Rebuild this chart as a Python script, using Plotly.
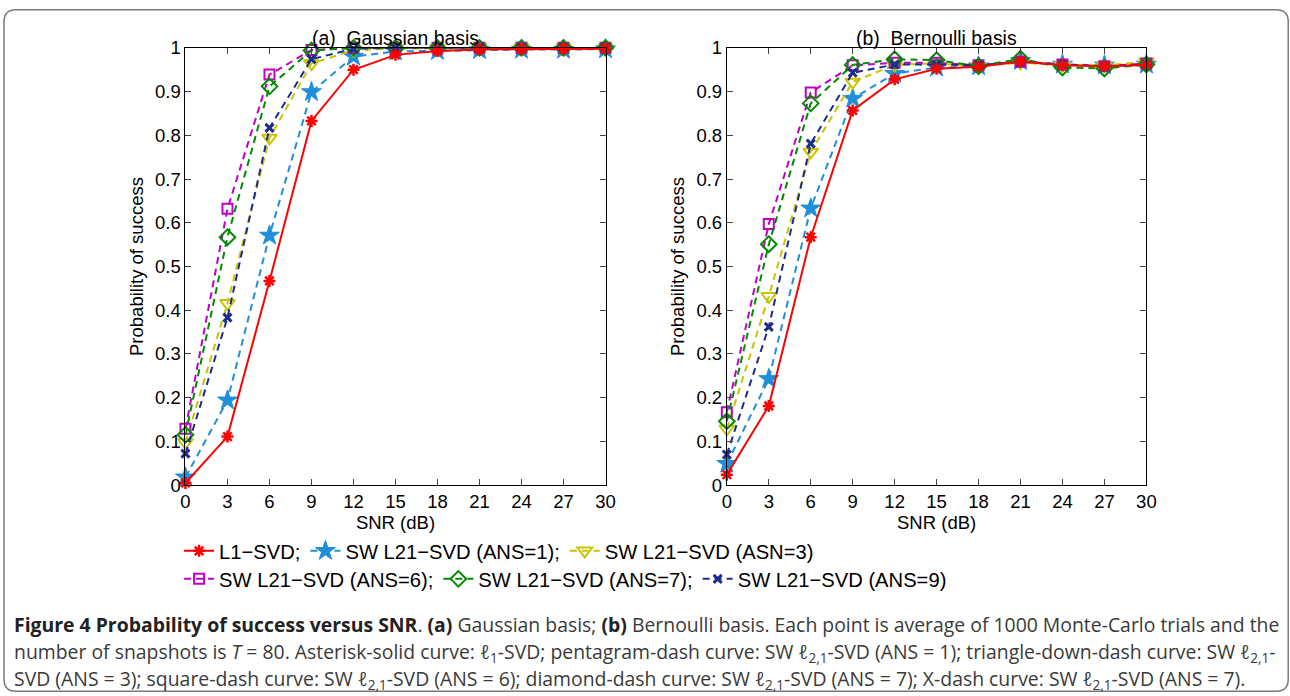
import plotly.graph_objects as go

# Figure size (the page body adds an 8px margin around the figure)
PAD = 8
W, H = 1302, 708
# measured mapping between page pixels and the captured picture
SX, OX = 0.986, -2.9
SY, OY = 0.9697, 1.4

snr = [0, 3, 6, 9, 12, 15, 18, 21, 24, 27, 30]
x_ticks = [0, 3, 6, 9, 12, 15, 18, 21, 24, 27, 30]
y_ticks = [0, 0.1, 0.2, 0.3, 0.4, 0.5, 0.6, 0.7, 0.8, 0.9, 1]
y_tick_text = ["0", "0.1", "0.2", "0.3", "0.4", "0.5", "0.6", "0.7", "0.8", "0.9", "1"]

# (a) Gaussian basis
g_l1 = [0.005, 0.111, 0.467, 0.833, 0.950, 0.984, 0.993, 0.996, 0.997, 0.998, 0.998]
g_ans1 = [0.018, 0.194, 0.571, 0.899, 0.980, 0.992, 0.993, 0.995, 0.996, 0.996, 0.997]
g_ans3 = [0.098, 0.416, 0.794, 0.964, 0.995, 0.998, 0.999, 1.0, 1.0, 1.0, 1.0]
g_ans6 = [0.129, 0.632, 0.939, 0.995, 1.0, 1.0, 1.0, 1.0, 1.0, 1.0, 1.0]
g_ans7 = [0.115, 0.567, 0.912, 0.994, 1.0, 1.0, 1.0, 1.0, 1.0, 1.0, 1.0]
g_ans9 = [0.072, 0.383, 0.817, 0.974, 0.998, 1.0, 1.0, 1.0, 1.0, 1.0, 1.0]

# (b) Bernoulli basis
b_l1 = [0.024, 0.181, 0.567, 0.857, 0.928, 0.952, 0.957, 0.969, 0.960, 0.958, 0.961]
b_ans1 = [0.049, 0.243, 0.633, 0.884, 0.941, 0.955, 0.958, 0.970, 0.962, 0.960, 0.962]
b_ans3 = [0.129, 0.432, 0.762, 0.922, 0.961, 0.965, 0.958, 0.966, 0.960, 0.960, 0.968]
b_ans6 = [0.167, 0.597, 0.898, 0.960, 0.966, 0.966, 0.960, 0.968, 0.962, 0.958, 0.964]
b_ans7 = [0.146, 0.551, 0.873, 0.961, 0.974, 0.972, 0.958, 0.975, 0.955, 0.953, 0.962]
b_ans9 = [0.070, 0.362, 0.781, 0.943, 0.962, 0.962, 0.960, 0.968, 0.962, 0.958, 0.962]

names = ["L1\u2212SVD;", "SW L21\u2212SVD (ANS=1);", "SW L21\u2212SVD (ASN=3)",
         "SW L21\u2212SVD (ANS=6);", "SW L21\u2212SVD (ANS=7);", "SW L21\u2212SVD (ANS=9)"]

styles = [
    dict(color="#ff0000", symbol="asterisk-open", size=10, dash="solid", mlw=2.5),
    dict(color="#1e8fd8", symbol="star", size=15, dash="7px,5px", mlw=1),
    dict(color="#c8c400", symbol="triangle-down-open", size=13, dash="7px,5px", mlw=2),
    dict(color="#c000c8", symbol="square-open", size=10, dash="7px,5px", mlw=2),
    dict(color="#008a00", symbol="diamond-open", size=12, dash="7px,5px", mlw=2),
    dict(color="#1c2c8c", symbol="x-thin-open", size=8, dash="7px,5px", mlw=3),
]

gauss = [g_l1, g_ans1, g_ans3, g_ans6, g_ans7, g_ans9]
bern = [b_l1, b_ans1, b_ans3, b_ans6, b_ans7, b_ans9]

fig = go.Figure()

FONT = "Liberation Sans, Arial, Helvetica"

# draw order: dashed curves first, red solid last
order = [1, 2, 3, 4, 5, 0]
for panel, (data, xa, ya) in enumerate([(gauss, "x", "y"), (bern, "x2", "y2")]):
    for i in order:
        s = styles[i]
        fig.add_trace(go.Scatter(
            x=snr, y=data[i], mode="lines+markers", name=names[i],
            xaxis=xa, yaxis=ya, cliponaxis=False,
            line=dict(color=s["color"], width=2, dash=s["dash"]),
            marker=dict(symbol=s["symbol"], size=s["size"], color=s["color"],
                        line=dict(color=s["color"], width=s["mlw"])),
            showlegend=(panel == 0),
            legend=("legend" if i < 3 else "legend2"),
            legendrank=i + 1,
        ))


def px_x(v):
    """target picture x (px) -> paper fraction"""
    return ((v - OX) / SX - PAD) / W


def px_y(v):
    """target picture y (px, from top) -> paper fraction"""
    return 1 - ((v - OY) / SY - PAD) / H


y_dom = [px_y(483), px_y(46)]
axis_common = dict(
    range=[0, 30], tickmode="array", tickvals=x_ticks, ticks="inside", ticklen=6,
    mirror="ticks", showline=True, linecolor="black", linewidth=1, showgrid=False,
    zeroline=False, tickfont=dict(family=FONT, size=18.5, color="black"),
    title=dict(text="SNR (dB)", font=dict(family=FONT, size=18.5, color="black"), standoff=2),
)
yaxis_common = dict(
    range=[0, 1], tickmode="array", tickvals=y_ticks, ticktext=y_tick_text, ticks="inside",
    ticklen=6, mirror="ticks", showline=True, linecolor="black", linewidth=1, showgrid=False,
    zeroline=False, tickfont=dict(family=FONT, size=18.5, color="black"),
    title=dict(text="Probability of success", font=dict(family=FONT, size=18.5, color="black"), standoff=6),
    domain=y_dom,
)

leg_x = px_x(187) - 8.5 / W
fig.update_layout(
    width=W, height=H, autosize=False,
    margin=dict(l=0, r=0, t=0, b=0),
    paper_bgcolor="white", plot_bgcolor="white",
    xaxis=dict(axis_common, domain=[px_x(185), px_x(604)], anchor="y"),
    yaxis=dict(yaxis_common, anchor="x"),
    xaxis2=dict(axis_common, domain=[px_x(725), px_x(1143.5)], anchor="y2"),
    yaxis2=dict(yaxis_common, anchor="x2"),
    legend=dict(orientation="h", x=leg_x, y=px_y(549), xanchor="left", yanchor="middle",
                font=dict(family=FONT, size=20.2, color="black"),
                itemwidth=30, bgcolor="rgba(0,0,0,0)", borderwidth=0, tracegroupgap=0),
    legend2=dict(orientation="h", x=leg_x, y=px_y(577), xanchor="left", yanchor="middle",
                 font=dict(family=FONT, size=20.2, color="black"),
                 itemwidth=30, bgcolor="rgba(0,0,0,0)", borderwidth=0, tracegroupgap=0),
    showlegend=True,
)

# panel titles
fig.add_annotation(x=px_x(395), y=px_y(36), xref="paper", yref="paper", showarrow=False,
                   xanchor="center", yanchor="middle",
                   text="(a)\u00a0\u00a0Gaussian basis", font=dict(family=FONT, size=19.4, color="black"))
fig.add_annotation(x=px_x(934), y=px_y(36), xref="paper", yref="paper", showarrow=False,
                   xanchor="center", yanchor="middle",
                   text="(b)\u00a0\u00a0Bernoulli basis", font=dict(family=FONT, size=19.4, color="black"))

# rounded frame
x0, y0, x1, y1, r = 4, 8, 1285, 689, 12
path = (f"M {px_x(x0 + r)} {px_y(y0)} L {px_x(x1 - r)} {px_y(y0)} "
        f"Q {px_x(x1)} {px_y(y0)} {px_x(x1)} {px_y(y0 + r)} "
        f"L {px_x(x1)} {px_y(y1 - r)} Q {px_x(x1)} {px_y(y1)} {px_x(x1 - r)} {px_y(y1)} "
        f"L {px_x(x0 + r)} {px_y(y1)} Q {px_x(x0)} {px_y(y1)} {px_x(x0)} {px_y(y1 - r)} "
        f"L {px_x(x0)} {px_y(y0 + r)} Q {px_x(x0)} {px_y(y0)} {px_x(x0 + r)} {px_y(y0)} Z")
fig.add_shape(type="path", path=path, xref="paper", yref="paper",
              line=dict(color="#7a7a7a", width=1.5), fillcolor="rgba(0,0,0,0)", layer="below")

cap_font = dict(family="Open Sans", size=19.4, color="#3a3a3a")
ell = "<i>\u2113</i>"
caption_lines = [
    "<span style='color:#222'><b>Figure 4 Probability of success versus SNR</b></span>. "
    "<span style='color:#222'><b>(a)</b></span> Gaussian basis; "
    "<span style='color:#222'><b>(b)</b></span> Bernoulli basis. "
    "Each point is average of 1000 Monte-Carlo trials and the",
    f"number of snapshots is <i>T</i> = 80. Asterisk-solid curve: {ell}<sub>1</sub>-SVD; pentagram-dash curve: "
    f"SW {ell}<sub>2,1</sub>-SVD (ANS = 1); triangle-down-dash curve: SW {ell}<sub>2,1</sub>-",
    f"SVD (ANS = 3); square-dash curve: SW {ell}<sub>2,1</sub>-SVD (ANS = 6); diamond-dash curve: "
    f"SW {ell}<sub>2,1</sub>-SVD (ANS = 7); X-dash curve: SW {ell}<sub>2,1</sub>-SVD (ANS = 7).",
]
caption_y = [622, 650, 677]
for txt, yy in zip(caption_lines, caption_y):
    fig.add_annotation(x=px_x(12), y=px_y(yy), xref="paper", yref="paper", showarrow=False,
                       xanchor="left", yanchor="middle", align="left", text=txt, font=cap_font)

fig.write_html("out.html")
